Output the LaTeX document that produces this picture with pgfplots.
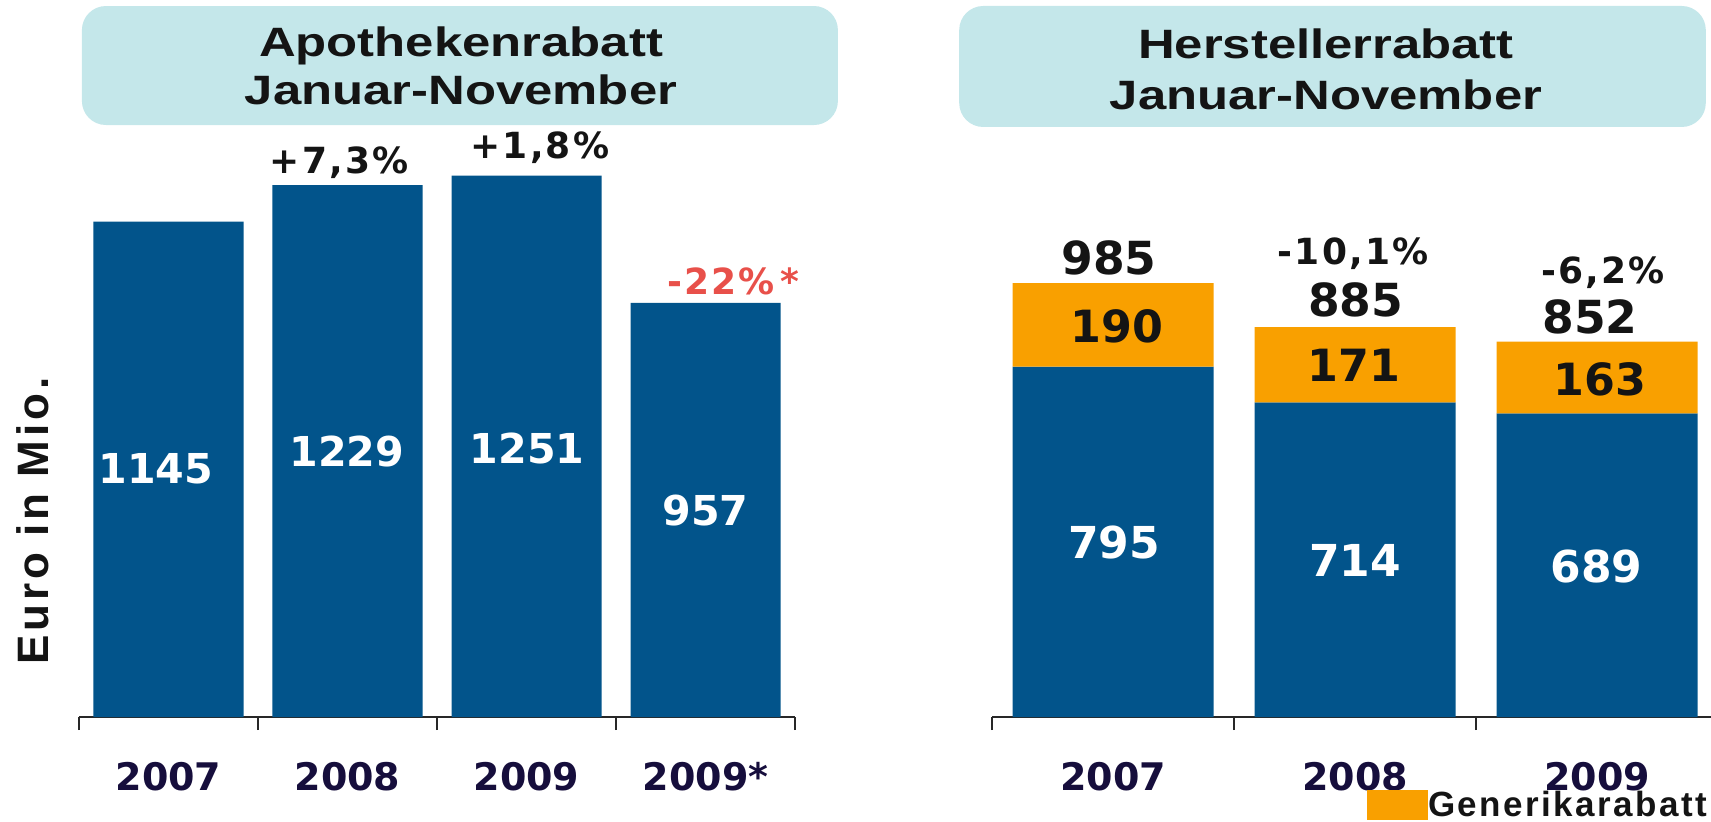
\documentclass[border=0pt]{standalone}
\usepackage{fontspec}
\setmainfont{Liberation Sans}
\usepackage{pgfplots}
\pgfplotsset{compat=1.18}
\newfontfamily\titlefont[FakeStretch=1.24]{Liberation Sans}
\newfontfamily\numfont{DejaVu Sans}
\newfontfamily\pctfont[LetterSpace=6]{DejaVu Sans}
\newfontfamily\ylabfont[LetterSpace=9]{Liberation Sans}
\newfontfamily\legfont[LetterSpace=7]{Liberation Sans}
\definecolor{barblue}{RGB}{2,84,139}
\definecolor{barorange}{RGB}{249,160,0}
\definecolor{titlebg}{RGB}{196,231,234}
\definecolor{navy}{RGB}{22,14,60}
\definecolor{redpct}{RGB}{232,80,74}
\definecolor{ink}{RGB}{20,20,20}
\definecolor{axisgray}{RGB}{40,40,40}
\pgfplotsset{
  common/.style={
    scale only axis, height=358.5pt, ymin=0,
    axis y line=none, axis x line*=bottom,
    x axis line style={-, line width=1pt, color=axisgray},
    clip=false,
    major tick length=0pt, minor tick length=6.5pt, tick align=outside,
    minor tick style={line width=1pt, color=axisgray},
    xtick={0,1,2,3},
    xticklabel style={font=\numfont\bfseries\fontsize{19}{22}\selectfont, text=navy, anchor=base, yshift=-36.5pt},
  },
}
\tikzset{
  titlebox/.style={fill=titlebg, rounded corners=12pt, inner sep=0pt},
  titletext/.style={font=\titlefont\bfseries\fontsize{20.5}{24}\selectfont, text=ink, anchor=base},
  whitenum/.style={font=\numfont\bfseries\fontsize{#1}{24}\selectfont, text=white, anchor=base},
  blacknum/.style={font=\numfont\bfseries\fontsize{#1}{24}\selectfont, text=ink, anchor=base},
  pct/.style={font=\pctfont\bfseries\fontsize{18}{22}\selectfont, text=ink, anchor=base},
}
\begin{document}
\begin{tikzpicture}
% ---------------- left: Apothekenrabatt ----------------
\begin{axis}[common, at={(39.5pt,52pt)}, anchor=south west, width=358pt,
  xmin=-0.5, xmax=3.5, ymax=1657,
  ybar, bar width=75pt,
  xticklabels={2007,2008,2009,2009*},
  minor xtick={-0.5,0.5,1.5,2.5,3.5}]
\addplot[fill=barblue, draw=none] coordinates {(0,1145) (1,1229) (2,1251) (3,957)};
\node[titlebox, minimum width=378pt, minimum height=59.5pt] at (axis cs:1.628,1505.6) {};
\node[titletext] at (axis cs:1.634,1526) {Apothekenrabatt};
\node[titletext] at (axis cs:1.634,1415.5) {Januar-November};
\node[whitenum=20.6] at (axis cs:-0.071,540.1) {1145};
\node[whitenum=20.6] at (axis cs:0.997,578.2) {1229};
\node[whitenum=20.6] at (axis cs:2.003,585.9) {1251};
\node[whitenum=20.6] at (axis cs:3.0,443.7) {957};
\node[pct] at (axis cs:0.953,1256.5) {+7,3\%};
\node[pct] at (axis cs:2.075,1291.2) {+1,8\%};
\node[pct, text=redpct] at (axis cs:3.155,975.3) {-22\%\hspace{3pt}*};
\node[font=\ylabfont\bfseries\fontsize{22}{26}\selectfont, text=ink, rotate=90, anchor=base] at (axis cs:-0.6715,453) {Euro in Mio.};
\end{axis}
% ---------------- right: Herstellerrabatt ----------------
\begin{axis}[common, at={(496pt,52pt)}, anchor=south west, width=359.37pt,
  xmin=-0.5, xmax=2.47, ymax=1627.3,
  ybar stacked, reverse stacked plots=false, bar width=100.5pt,
  xticklabels={2007,2008,2009},
  minor xtick={-0.5,0.5,1.5},
  legend cell align=left,
  legend style={draw=none, fill=none, inner sep=0pt, outer sep=0pt,
    at={(axis cs:1.0496,-234)}, anchor=south west,
    font=\legfont\bfseries\fontsize{17.5}{20}\selectfont, text=ink,
    nodes={inner sep=0pt},
    /tikz/every even column/.append style={column sep=2pt}}]
\addplot[fill=barblue, draw=none, forget plot] coordinates {(0,795) (1,714) (2,689)};
\addplot[fill=barorange, draw=none,
  legend image code/.code={\fill[barorange] (0pt,-7.5pt) rectangle (30.5pt,7.5pt);}]
  coordinates {(0,190) (1,171) (2,163)};
\addlegendentry{Generikarabatt}
\node[titlebox, minimum width=373.3pt, minimum height=60.5pt] at (axis cs:0.907,1476.4) {};
\node[titletext] at (axis cs:0.880,1493.4) {Herstellerrabatt};
\node[titletext] at (axis cs:0.880,1377.7) {Januar-November};
\node[blacknum=22.8] at (axis cs:-0.017,1003.2) {985};
\node[blacknum=22.8] at (axis cs:1.003,910.1) {885};
\node[blacknum=22.8] at (axis cs:1.971,870.9) {852};
\node[blacknum=22.2] at (axis cs:0.015,850.4) {190};
\node[blacknum=22.2] at (axis cs:0.996,761.0) {171};
\node[blacknum=22.2] at (axis cs:2.011,728.6) {163};
\node[whitenum=22] at (axis cs:0.004,360.2) {795};
\node[whitenum=22] at (axis cs:1.0,320.0) {714};
\node[whitenum=22] at (axis cs:1.998,306.4) {689};
\node[pct] at (axis cs:0.992,1025.9) {-10,1\%};
\node[pct] at (axis cs:2.025,984.3) {-6,2\%};
\end{axis}
\pgfresetboundingbox
\path[use as bounding box] (0pt,0pt) rectangle (855.5pt,410.5pt);
\end{tikzpicture}
\end{document}
